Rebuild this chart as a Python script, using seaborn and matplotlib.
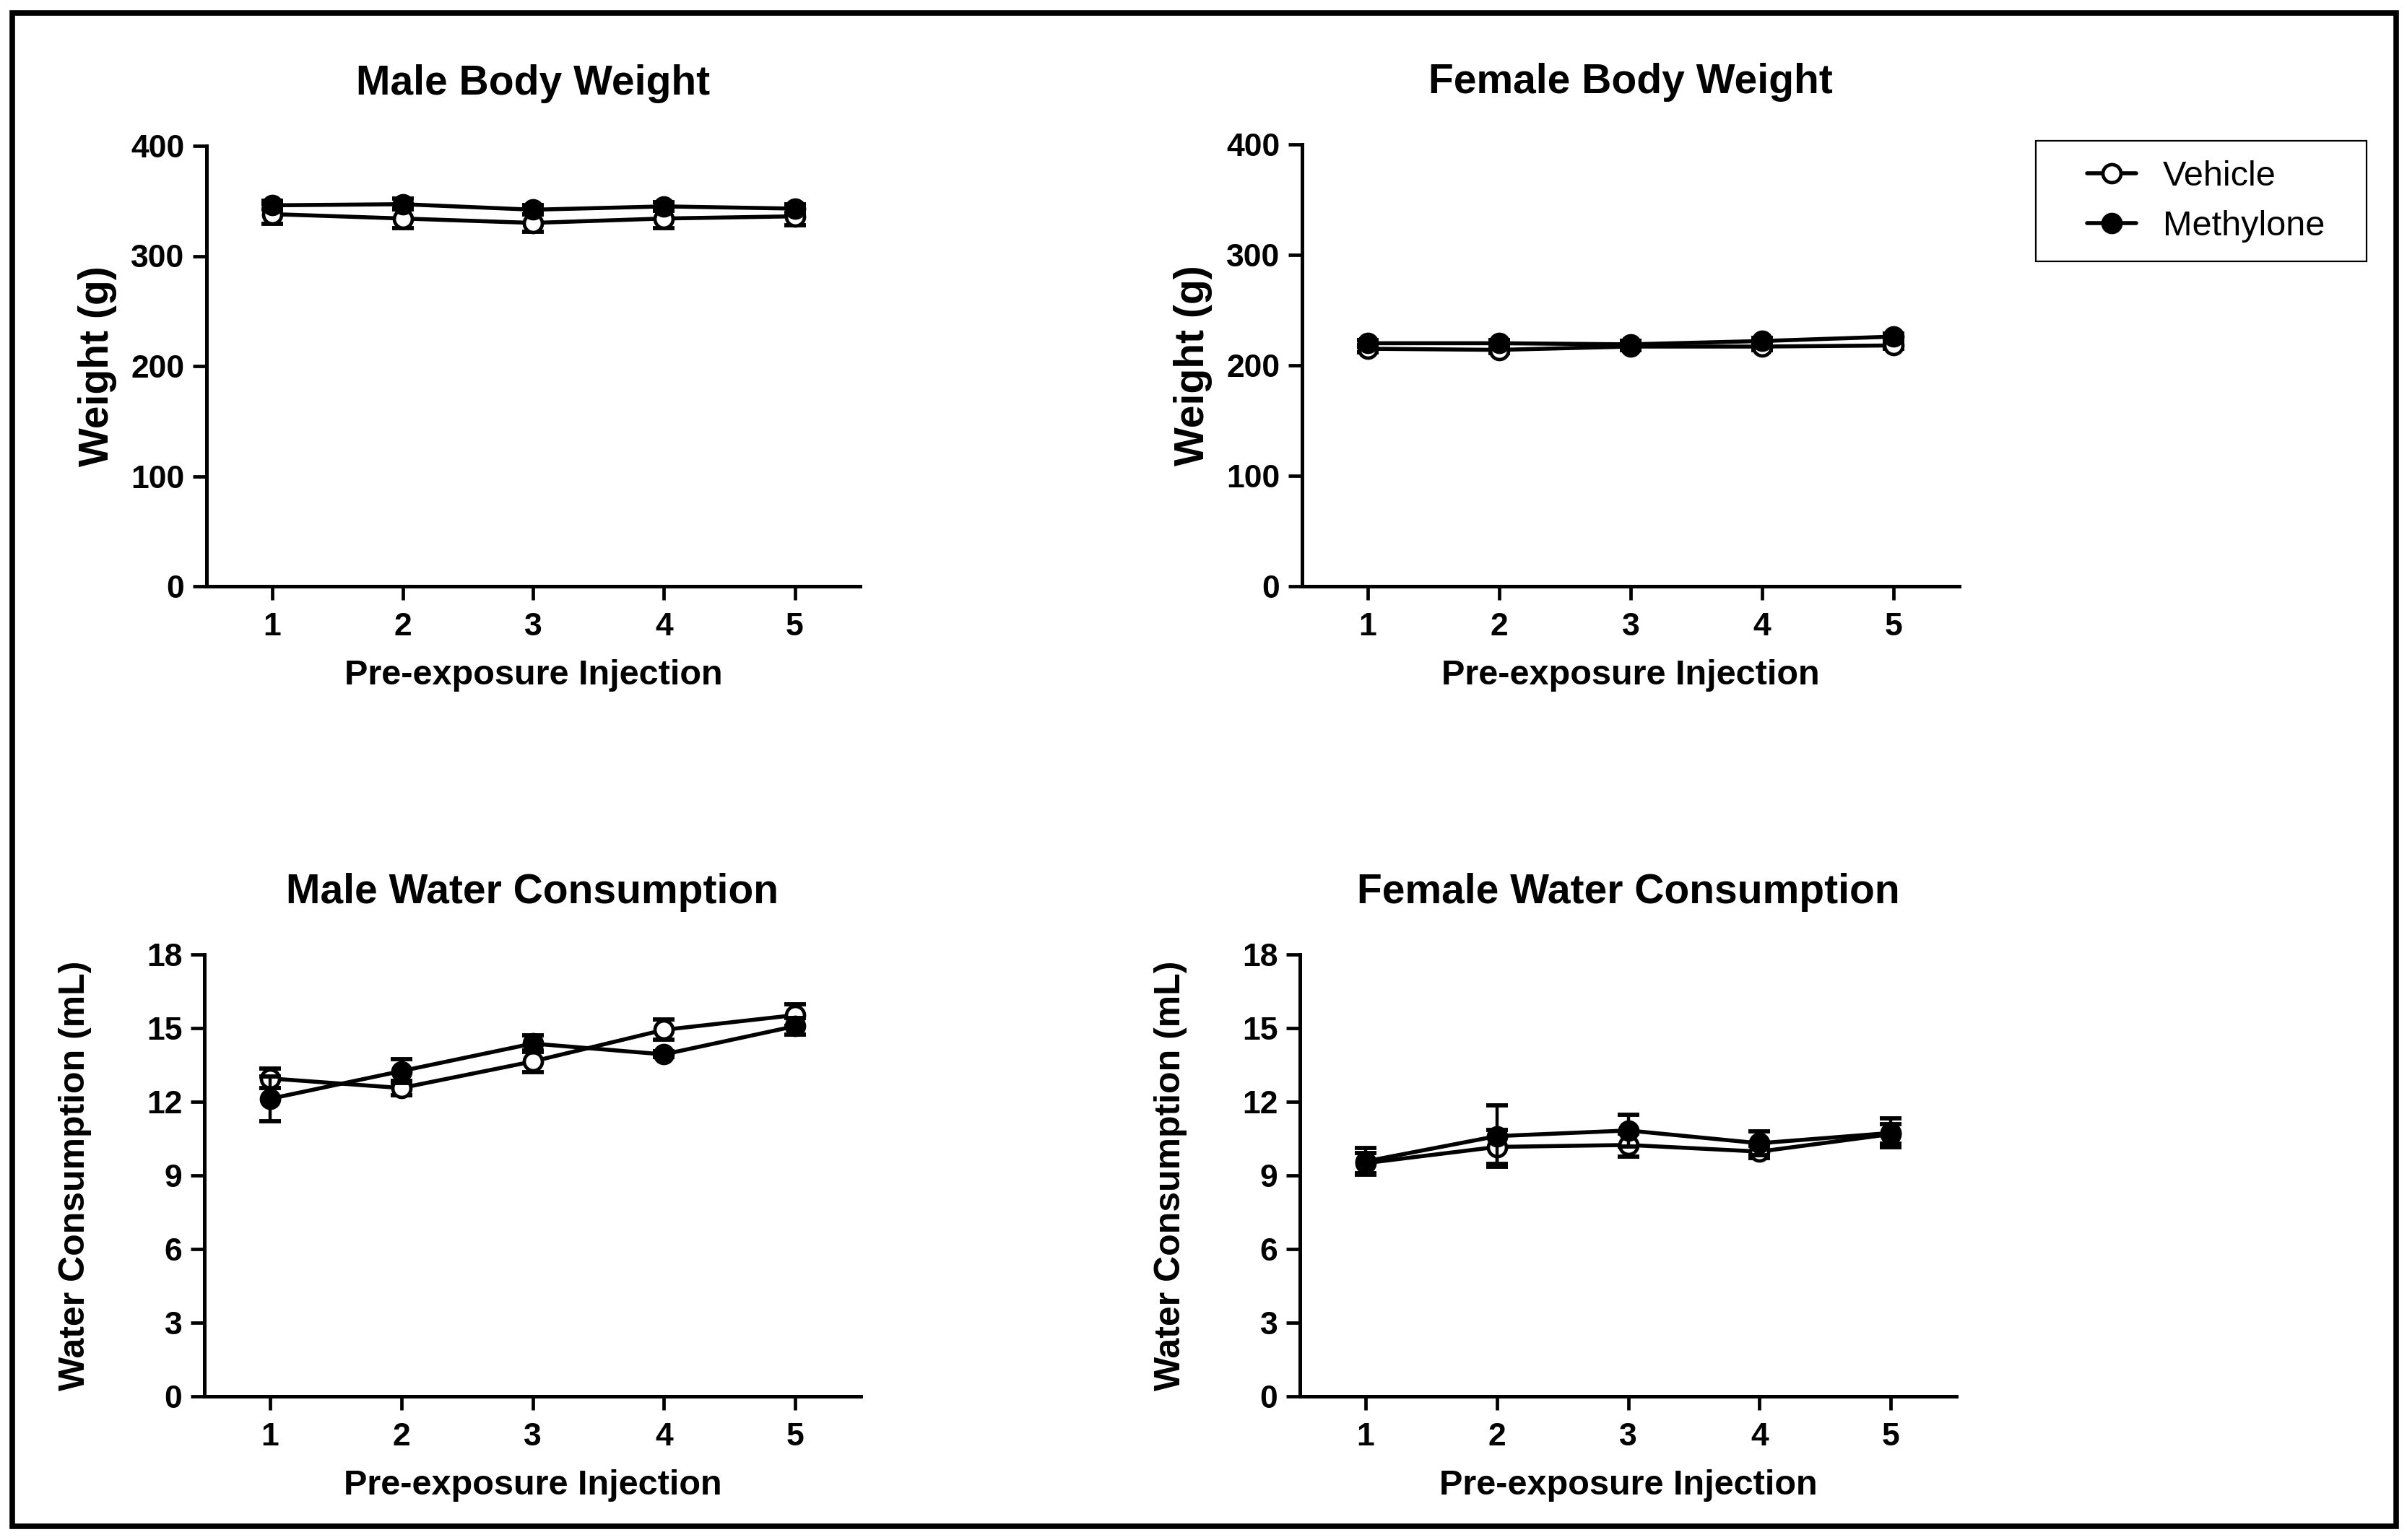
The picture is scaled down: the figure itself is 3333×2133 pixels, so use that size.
import matplotlib
matplotlib.use("Agg")
import matplotlib.pyplot as plt
from matplotlib.lines import Line2D
from matplotlib.patches import Rectangle
import numpy as np
import pandas as pd
import seaborn as sns

# ---------------- data ----------------
injections = [1, 2, 3, 4, 5]
groups = ["Vehicle", "Methylone"]

male_bw_vehicle = [338, 334, 330, 334, 336]
male_bw_vehicle_sem = [9, 9, 8, 9, 8]
male_bw_methylone = [346, 347, 342, 345, 343]
male_bw_methylone_sem = [4, 5, 4, 4, 4]

female_bw_vehicle = [215, 214, 217, 217, 218]
female_bw_vehicle_sem = [3, 3, 3, 3, 3]
female_bw_methylone = [220, 220, 219, 222, 226]
female_bw_methylone_sem = [3, 3, 3, 3, 3]

male_water_vehicle = [12.95, 12.56, 13.64, 14.93, 15.53]
male_water_vehicle_sem = [0.39, 0.29, 0.44, 0.41, 0.43]
male_water_methylone = [12.12, 13.25, 14.37, 13.93, 15.08]
male_water_methylone_sem = [0.90, 0.49, 0.34, 0.12, 0.33]

female_water_vehicle = [9.50, 10.16, 10.24, 9.97, 10.68]
female_water_vehicle_sem = [0.40, 0.70, 0.47, 0.25, 0.40]
female_water_methylone = [9.57, 10.60, 10.83, 10.31, 10.73]
female_water_methylone_sem = [0.55, 1.24, 0.64, 0.49, 0.59]

titles = ["Male Body Weight", "Female Body Weight",
          "Male Water Consumption", "Female Water Consumption"]
xlabel = "Pre-exposure Injection"
ylabel_weight = "Weight (g)"
ylabel_water = "Water Consumption (mL)"
weight_ticks = [0, 100, 200, 300, 400]
water_ticks = [0, 3, 6, 9, 12, 15, 18]

# ---------------- style ----------------
sns.set_style("ticks")
plt.rcParams["font.family"] = ["Liberation Sans", "DejaVu Sans"]
plt.rcParams["font.weight"] = "bold"
plt.rcParams["text.color"] = "black"
plt.rcParams["axes.labelcolor"] = "black"
plt.rcParams["xtick.color"] = "black"
plt.rcParams["ytick.color"] = "black"
plt.rcParams["axes.edgecolor"] = "black"

W, H = 3333, 2133
fig = plt.figure(figsize=(W / 100, H / 100), dpi=100)
fig.patch.set_facecolor("white")

def frac(left, top, right, bottom):
    return [left / W, 1 - bottom / H, (right - left) / W, (bottom - top) / H]

panels = [
    dict(pos=frac(286, 202, 1191, 812), veh=male_bw_vehicle, vsem=male_bw_vehicle_sem,
         met=male_bw_methylone, msem=male_bw_methylone_sem, yl=ylabel_weight,
         ticks=weight_ticks, ylfs=41, ylpad=14),
    dict(pos=frac(1803, 200, 2713, 812), veh=female_bw_vehicle, vsem=female_bw_vehicle_sem,
         met=female_bw_methylone, msem=female_bw_methylone_sem, yl=ylabel_weight,
         ticks=weight_ticks, ylfs=41, ylpad=14),
    dict(pos=frac(283, 1322, 1192, 1934), veh=male_water_vehicle, vsem=male_water_vehicle_sem,
         met=male_water_methylone, msem=male_water_methylone_sem, yl=ylabel_water,
         ticks=water_ticks, ylfs=36, ylpad=55),
    dict(pos=frac(1800, 1322, 2709, 1934), veh=female_water_vehicle, vsem=female_water_vehicle_sem,
         met=female_water_methylone, msem=female_water_methylone_sem, yl=ylabel_water,
         ticks=water_ticks, ylfs=36, ylpad=55),
]

LW = 4.0
MS = 18
MEW = 3.4

for p, title in zip(panels, titles):
    ax = fig.add_axes(p["pos"])
    df = pd.DataFrame({
        "Injection": injections * 2,
        "Mean": list(p["veh"]) + list(p["met"]),
        "SEM": list(p["vsem"]) + list(p["msem"]),
        "Group": ["Vehicle"] * 5 + ["Methylone"] * 5,
    })
    dv = df[df.Group == "Vehicle"]
    dm = df[df.Group == "Methylone"]

    ax.errorbar(dv.Injection, dv.Mean, yerr=dv.SEM, fmt="none", ecolor="black",
                elinewidth=3.2, capsize=11, capthick=4.2, zorder=2)
    sns.lineplot(data=dv, x="Injection", y="Mean", ax=ax, color="black",
                 linewidth=LW, marker="o", markersize=MS, markerfacecolor="white",
                 markeredgecolor="black", markeredgewidth=MEW, legend=False,
                 errorbar=None, zorder=3)
    ax.errorbar(dm.Injection, dm.Mean, yerr=dm.SEM, fmt="none", ecolor="black",
                elinewidth=3.2, capsize=11, capthick=4.2, zorder=4)
    sns.lineplot(data=dm, x="Injection", y="Mean", ax=ax, color="black",
                 linewidth=LW, marker="o", markersize=MS, markerfacecolor="black",
                 markeredgecolor="black", markeredgewidth=MEW, legend=False,
                 errorbar=None, zorder=5)

    ax.set_xlim(0.5, 5.5)
    ax.set_ylim(p["ticks"][0], p["ticks"][-1])
    ax.set_xticks(injections)
    ax.set_yticks(p["ticks"])
    ax.set_xticklabels([str(i) for i in injections], fontsize=32, fontweight="bold")
    ax.set_yticklabels([str(t) for t in p["ticks"]], fontsize=32, fontweight="bold")
    ax.tick_params(axis="both", direction="out", length=14, width=3.4, colors="black")
    ax.tick_params(axis="x", pad=12)
    ax.tick_params(axis="y", pad=8)
    for s in ["top", "right"]:
        ax.spines[s].set_visible(False)
    for s in ["left", "bottom"]:
        ax.spines[s].set_linewidth(3.6)
        ax.spines[s].set_color("black")
    ax.set_xlabel(xlabel, fontsize=35, fontweight="bold", labelpad=17, color="black")
    ax.set_ylabel(p["yl"], fontsize=p["ylfs"], fontweight="bold", labelpad=p["ylpad"],
                  color="black")
    ax.set_title(title, fontsize=41, fontweight="bold", pad=51, color="black")
    ax.set_facecolor("white")
    ax.grid(False)

# legend
handles = [
    Line2D([], [], color="black", linewidth=LW, marker="o", markersize=MS,
           markerfacecolor="white", markeredgecolor="black", markeredgewidth=MEW),
    Line2D([], [], color="black", linewidth=LW, marker="o", markersize=MS,
           markerfacecolor="black", markeredgecolor="black", markeredgewidth=MEW),
]
leg = fig.legend(handles, groups, loc="center left",
                 bbox_to_anchor=(2890 / W, 1 - 279 / H), frameon=False,
                 borderpad=0, borderaxespad=0, handlelength=1.4, handletextpad=0.76,
                 labelspacing=0.5, prop={"family": "Liberation Sans", "size": 35,
                                         "weight": "normal"})
for t in leg.get_texts():
    t.set_color("black")
fig.add_artist(Rectangle((2819 / W, 1 - 362 / H), (3277 - 2819) / W, (362 - 195) / H,
                         transform=fig.transFigure, fill=False, edgecolor="black",
                         linewidth=1.6))

# outer border
fig.add_artist(Rectangle((17 / W, 1 - 2114 / H), (3318 - 17) / W, (2114 - 18) / H,
                         transform=fig.transFigure, fill=False, edgecolor="black",
                         linewidth=5.5))

fig.savefig("out.png", dpi=100, facecolor="white")
